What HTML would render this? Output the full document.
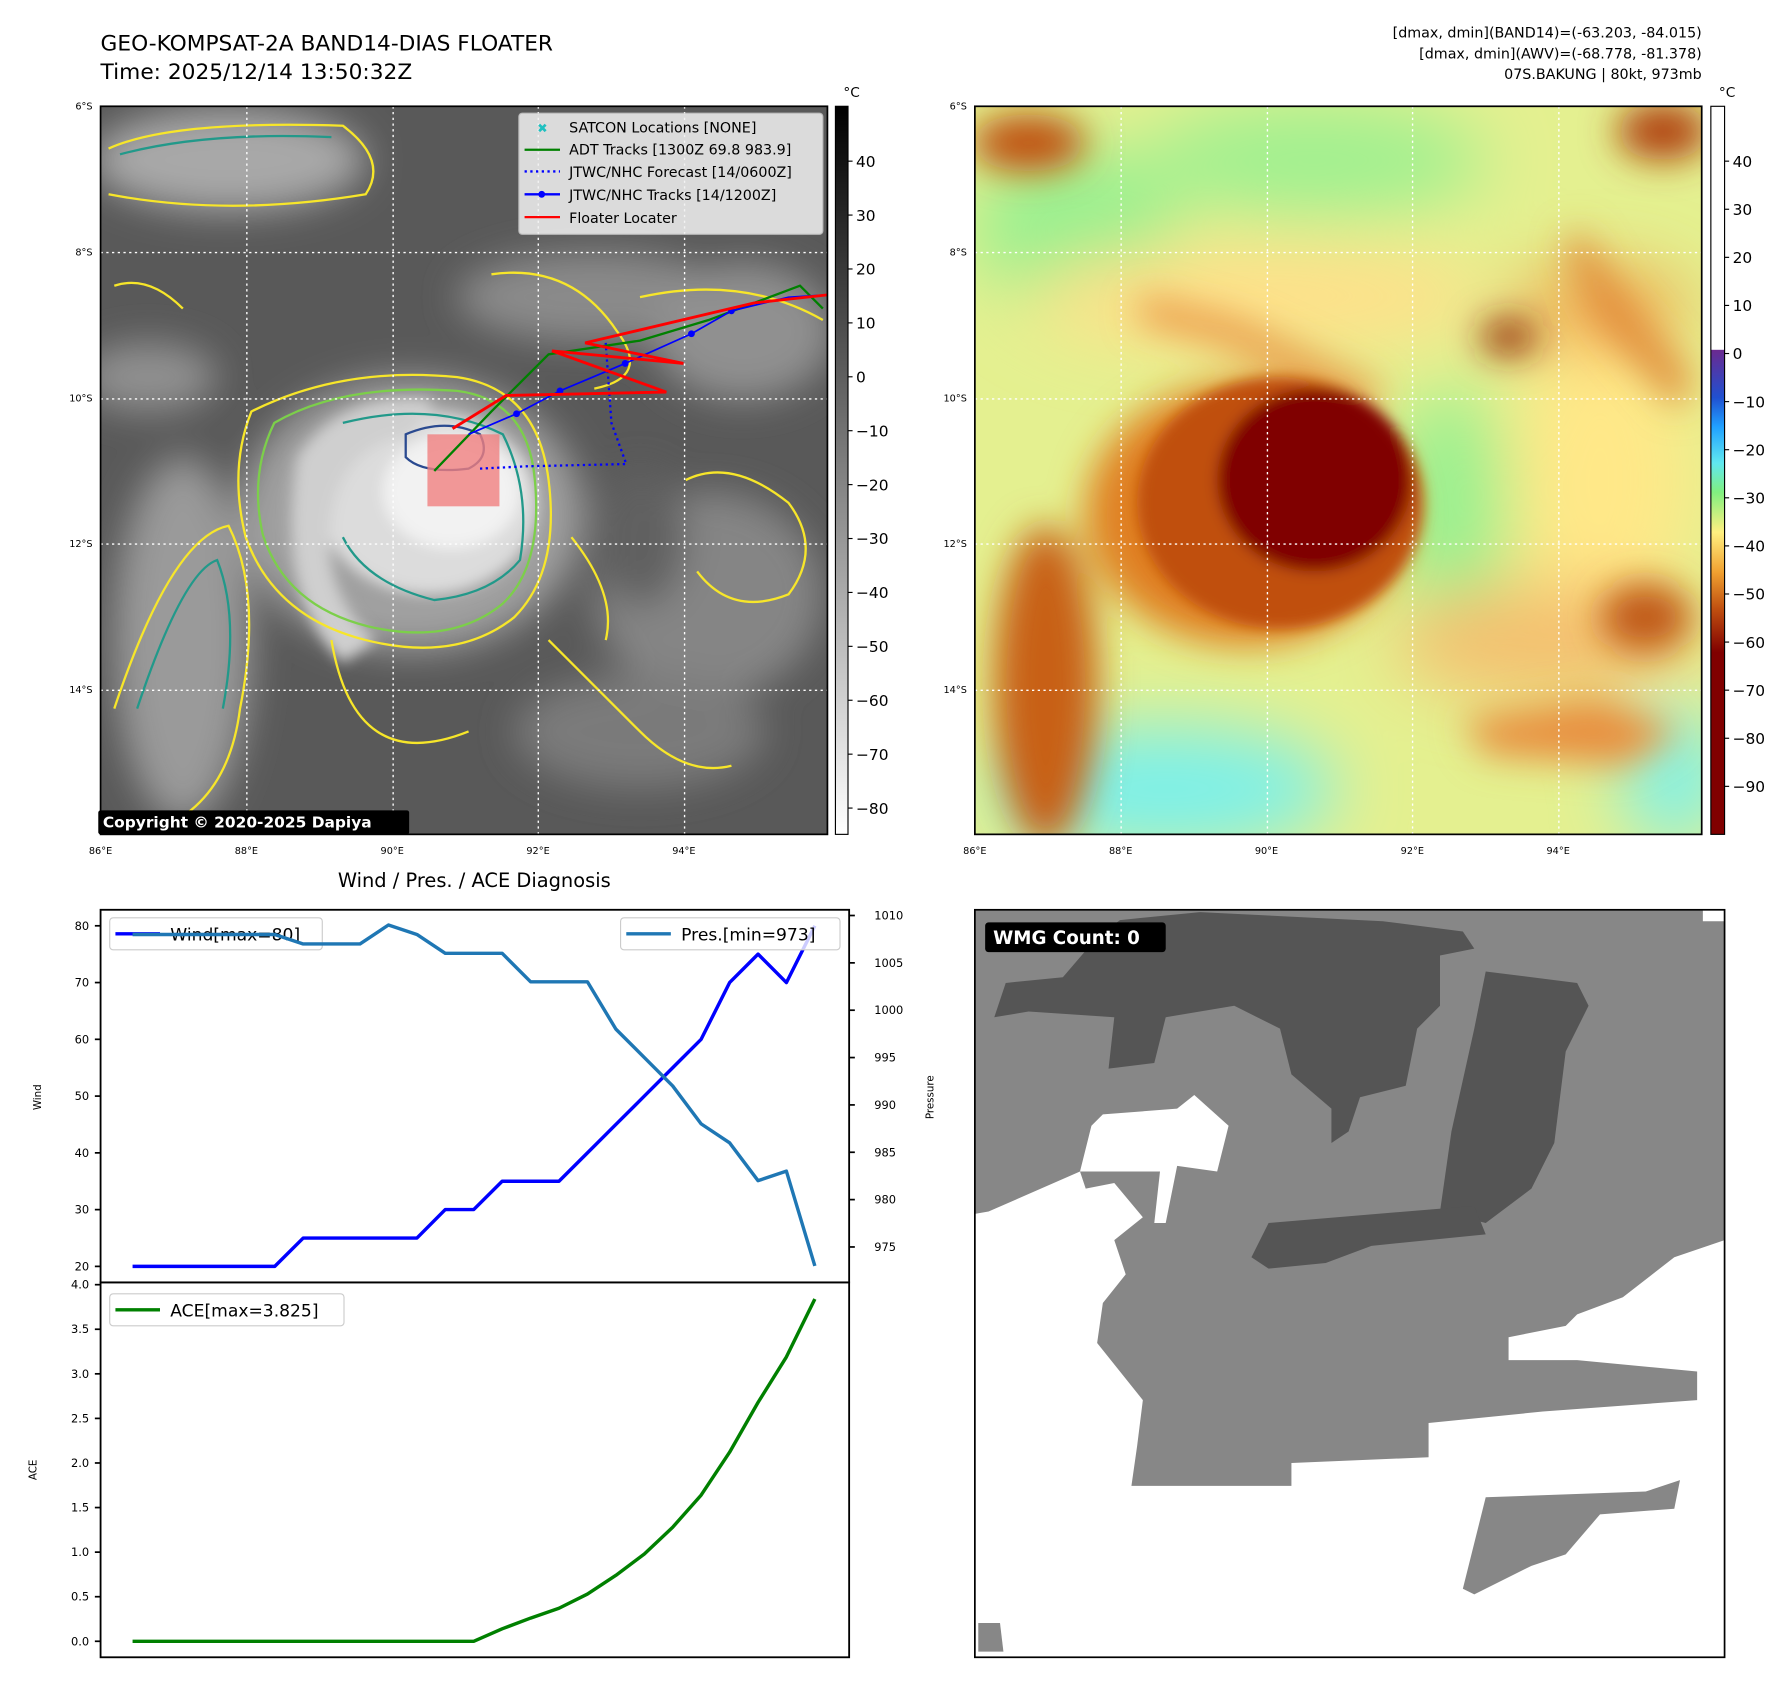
<!DOCTYPE html>
<html><head><meta charset="utf-8"><style>
html,body{margin:0;padding:0;background:#fff;}
svg{display:block;font-family:"DejaVu Sans","Liberation Sans",sans-serif;}
</style></head><body>
<svg id="fig" width="1792" height="1695" viewBox="0 0 1568 1483" preserveAspectRatio="none" xmlns="http://www.w3.org/2000/svg">
<defs>
<filter id="b8" x="-50%" y="-50%" width="200%" height="200%"><feGaussianBlur stdDeviation="6"/></filter>
<filter id="b20" x="-50%" y="-50%" width="200%" height="200%"><feGaussianBlur stdDeviation="16"/></filter>
<filter id="b35" x="-50%" y="-50%" width="200%" height="200%"><feGaussianBlur stdDeviation="30"/></filter>
<clipPath id="cl"><rect x="88" y="93" width="636" height="637"/></clipPath>
<clipPath id="cr"><rect x="853" y="93" width="636" height="637"/></clipPath>
<clipPath id="cw"><rect x="853" y="796" width="656" height="654"/></clipPath>
<linearGradient id="gcb" x1="0" y1="0" x2="0" y2="1"><stop offset="0" stop-color="#000"/><stop offset="1" stop-color="#fff"/></linearGradient>
<linearGradient id="ccb" x1="0" y1="0" x2="0" y2="1">
<stop offset="0" stop-color="#fff"/><stop offset="0.334" stop-color="#fff"/>
<stop offset="0.335" stop-color="#6a2a90"/><stop offset="0.40" stop-color="#2050d0"/><stop offset="0.44" stop-color="#20a0ff"/>
<stop offset="0.49" stop-color="#60e8f0"/><stop offset="0.53" stop-color="#80f080"/><stop offset="0.585" stop-color="#fff080"/>
<stop offset="0.64" stop-color="#f0a030"/><stop offset="0.69" stop-color="#c05010"/><stop offset="0.75" stop-color="#800000"/><stop offset="1" stop-color="#800000"/></linearGradient>
</defs>

<text x="88" y="44" font-size="19">GEO-KOMPSAT-2A BAND14-DIAS FLOATER</text>
<text x="88" y="69" font-size="19">Time: 2025/12/14 13:50:32Z</text>
<g font-size="12.5" text-anchor="end">
<text x="1489" y="33">[dmax, dmin](BAND14)=(-63.203, -84.015)</text>
<text x="1489" y="51">[dmax, dmin](AWV)=(-68.778, -81.378)</text>
<text x="1489" y="69">07S.BAKUNG | 80kt, 973mb</text>
</g>

<!-- LEFT MAP -->
<g clip-path="url(#cl)">
<rect x="88" y="93" width="636" height="637" fill="#595959"/>
<g filter="url(#b20)">
<ellipse cx="200" cy="140" rx="120" ry="45" fill="#a8a8a8"/>
<ellipse cx="520" cy="260" rx="120" ry="40" fill="#8a8a8a"/>
<ellipse cx="650" cy="290" rx="80" ry="60" fill="#909090"/>
<ellipse cx="130" cy="330" rx="60" ry="30" fill="#909090"/>
<ellipse cx="360" cy="450" rx="150" ry="120" fill="#a0a0a0"/>
<ellipse cx="160" cy="560" rx="60" ry="160" fill="#9a9a9a"/>
<ellipse cx="620" cy="520" rx="100" ry="90" fill="#858585"/>
<ellipse cx="560" cy="640" rx="110" ry="50" fill="#7a7a7a"/>
<ellipse cx="560" cy="470" rx="40" ry="60" fill="#606060"/>
</g>
<g filter="url(#b8)">
<ellipse cx="375" cy="440" rx="95" ry="80" fill="#dcdcdc"/>
<ellipse cx="395" cy="430" rx="60" ry="50" fill="#f2f2f2"/>
<path d="M260 400 Q300 340 380 350 L360 380 Q300 390 290 450 Q280 520 330 560 L300 580 Q240 520 260 400Z" fill="#cfcfcf"/>
</g>
<g fill="none" stroke-width="2">
<path d="M220 360 Q300 320 400 330 Q470 340 480 420 Q490 500 450 540 Q400 580 320 560 Q240 540 215 470 Q200 410 220 360Z" stroke="#f7e62a"/>
<path d="M240 370 Q300 335 400 342 Q462 350 468 420 Q475 495 440 528 Q395 565 322 548 Q250 530 230 468 Q218 415 240 370Z" stroke="#7ccf4a"/>
<path d="M300 370 Q380 350 440 380 Q465 430 455 490 Q430 520 380 525 Q320 510 300 470" stroke="#22998a"/>
<path d="M355 380 Q390 365 420 380 Q430 400 410 410 Q370 415 355 400Z" stroke="#2a4a90"/>
<path d="M100 620 Q150 470 200 460 Q230 520 210 620 Q200 700 140 725" stroke="#f7e62a"/>
<path d="M120 620 Q160 500 190 490 Q210 540 195 620" stroke="#22998a"/>
<path d="M95 130 Q150 105 300 110 Q340 140 320 170 Q200 190 95 170" stroke="#f7e62a"/>
<path d="M105 135 Q180 115 290 120" stroke="#22998a"/>
<path d="M430 240 Q500 230 540 290 Q570 330 520 340" stroke="#f7e62a"/>
<path d="M560 260 Q650 240 720 280" stroke="#f7e62a"/>
<path d="M600 420 Q640 400 690 440 Q720 480 690 520 Q640 540 610 500" stroke="#f7e62a"/>
<path d="M480 560 Q520 600 560 640 Q600 680 640 670" stroke="#f7e62a"/>
<path d="M290 560 Q300 620 330 640 Q360 660 410 640" stroke="#f7e62a"/>
<path d="M500 470 Q540 520 530 560" stroke="#f7e62a"/>
<path d="M100 250 Q130 240 160 270" stroke="#f7e62a"/>
</g>
<g stroke="#fff" stroke-width="1.2" stroke-dasharray="2,3">
<line x1="216" y1="93" x2="216" y2="730"/><line x1="344" y1="93" x2="344" y2="730"/><line x1="471" y1="93" x2="471" y2="730"/><line x1="599" y1="93" x2="599" y2="730"/>
<line x1="88" y1="221" x2="724" y2="221"/><line x1="88" y1="349" x2="724" y2="349"/><line x1="88" y1="476" x2="724" y2="476"/><line x1="88" y1="604" x2="724" y2="604"/>
</g>
<rect x="374" y="380" width="63" height="63" fill="#f08080" opacity="0.8"/>
<polyline points="380,412 430,360 480,310 560,298 620,280 700,250 720,270" fill="none" stroke="#008000" stroke-width="2"/>
<polyline points="420,410 460,408 548,406 535,370 530,300" fill="none" stroke="#0000ff" stroke-width="2" stroke-dasharray="2,3"/>
<polyline points="410,380 452,362 490,342 547,318 605,292 640,272 690,260 724,258" fill="none" stroke="#0000ff" stroke-width="1.5"/>
<g fill="#0000ff"><circle cx="452" cy="362" r="3"/><circle cx="490" cy="342" r="3"/><circle cx="547" cy="318" r="3"/><circle cx="605" cy="292" r="3"/><circle cx="640" cy="272" r="3"/></g>
<polyline points="396,375 443,346 583,343 483,307 598,318 512,300 660,265 724,258" fill="none" stroke="#ff0000" stroke-width="2.5"/>
</g>
<rect x="88" y="93" width="636" height="637" fill="none" stroke="#000" stroke-width="1.5"/>
<g>
<rect x="454" y="99" width="266" height="106" rx="3" fill="#f2f2f2" opacity="0.85" stroke="#ccc"/>
<g font-size="12.5">
<text x="470" y="116" fill="#20c0c0" font-weight="bold" font-size="11">✖</text><text x="498" y="116">SATCON Locations [NONE]</text>
<line x1="459" y1="131" x2="490" y2="131" stroke="#008000" stroke-width="2"/><text x="498" y="135">ADT Tracks [1300Z 69.8 983.9]</text>
<line x1="459" y1="150" x2="490" y2="150" stroke="#0000ff" stroke-width="2" stroke-dasharray="2,3"/><text x="498" y="155">JTWC/NHC Forecast [14/0600Z]</text>
<line x1="459" y1="170" x2="490" y2="170" stroke="#0000ff" stroke-width="2"/><circle cx="474" cy="170" r="3" fill="#0000ff"/><text x="498" y="175">JTWC/NHC Tracks [14/1200Z]</text>
<line x1="459" y1="190" x2="490" y2="190" stroke="#ff0000" stroke-width="2"/><text x="498" y="195">Floater Locater</text>
</g></g>
<rect x="86" y="709" width="272" height="21" rx="2" fill="#000"/>
<text x="90" y="724" font-size="13.5" font-weight="bold" fill="#fff">Copyright © 2020-2025 Dapiya</text>
<rect x="731" y="93" width="11" height="637" fill="url(#gcb)" stroke="#000"/>
<text x="738" y="85" font-size="12">°C</text>
<g id="ircbt" font-size="13.5"></g>

<!-- RIGHT MAP -->
<g clip-path="url(#cr)">
<rect x="853" y="93" width="636" height="637" fill="#e4f090"/>
<g filter="url(#b35)">
<ellipse cx="940" cy="200" rx="90" ry="70" fill="#98f090"/>
<ellipse cx="1150" cy="140" rx="150" ry="50" fill="#a0f090"/>
<ellipse cx="1100" cy="260" rx="200" ry="45" fill="#ffe08a"/>
<ellipse cx="1400" cy="420" rx="80" ry="130" fill="#ffe888"/>
<ellipse cx="1270" cy="440" rx="50" ry="100" fill="#98f090"/>
<ellipse cx="1020" cy="690" rx="150" ry="55" fill="#7ef0e8"/>
<ellipse cx="1465" cy="680" rx="45" ry="60" fill="#80f0e8"/>
<ellipse cx="1350" cy="560" rx="130" ry="50" fill="#f4c070"/>
<ellipse cx="1400" cy="270" rx="80" ry="35" fill="#f0a850"/>
</g>
<g filter="url(#b20)">
<ellipse cx="900" cy="125" rx="50" ry="25" fill="#c05010"/>
<ellipse cx="1455" cy="115" rx="40" ry="25" fill="#b04010"/>
<ellipse cx="1320" cy="295" rx="25" ry="15" fill="#902000"/>
<ellipse cx="915" cy="600" rx="45" ry="140" fill="#c86018"/>
<ellipse cx="1090" cy="450" rx="140" ry="115" fill="#e08020"/>
<ellipse cx="1440" cy="540" rx="40" ry="30" fill="#c05814"/>
<path d="M1000 260 L1080 280 L1210 340 L1200 360 L1070 300 L995 280Z" fill="#e89040"/>
<path d="M1380 200 L1420 260 L1480 330 L1470 360 L1400 280 L1370 220Z" fill="#e08838"/>
<path d="M1280 630 L1400 610 L1470 640 L1420 670 L1300 660Z" fill="#e89040"/>
</g>
<g filter="url(#b8)">
<ellipse cx="1120" cy="440" rx="125" ry="110" fill="#c05010"/>
<ellipse cx="1150" cy="420" rx="85" ry="80" fill="#800000"/>
</g>
<g stroke="#fff" stroke-width="1.2" stroke-dasharray="2,3">
<line x1="981" y1="93" x2="981" y2="730"/><line x1="1109" y1="93" x2="1109" y2="730"/><line x1="1236" y1="93" x2="1236" y2="730"/><line x1="1364" y1="93" x2="1364" y2="730"/>
<line x1="853" y1="221" x2="1489" y2="221"/><line x1="853" y1="349" x2="1489" y2="349"/><line x1="853" y1="476" x2="1489" y2="476"/><line x1="853" y1="604" x2="1489" y2="604"/>
</g>
</g>
<rect x="853" y="93" width="636" height="637" fill="none" stroke="#000" stroke-width="1.5"/>
<rect x="1497" y="93" width="12" height="637" fill="url(#ccb)" stroke="#000"/>
<text x="1504" y="85" font-size="12">°C</text>
<g id="awvcbt" font-size="13.5"></g>

<g id="mapticks" font-size="8.5"></g>

<!-- WMG panel -->
<g clip-path="url(#cw)">
<rect x="853" y="796" width="656" height="654" fill="#fff"/>
<path d="M853 796 L1490 796 L1490 806 L1509 806 L1509 1085 L1465 1100 L1420 1135 L1380 1150 L1370 1160 L1320 1170 L1320 1190 L1380 1190 L1485 1200 L1485 1225 L1350 1235 L1250 1245 L1250 1275 L1130 1280 L1130 1300 L990 1300 L995 1265 L1000 1225 L960 1175 L965 1140 L985 1115 L975 1085 L1000 1065 L975 1035 L950 1040 L945 1025 L865 1060 L853 1062Z" fill="#878787"/>
<path d="M955 985 L965 975 L1030 970 L1045 958 L1075 985 L1065 1025 L1030 1020 L1020 1070 L1010 1070 L1015 1025 L945 1025Z" fill="#fff"/>
<path d="M870 890 L880 860 L930 855 L960 820 L980 805 L1050 798 L1210 806 L1280 815 L1290 830 L1260 836 L1260 880 L1240 900 L1230 950 L1190 960 L1180 990 L1165 1000 L1165 970 L1130 940 L1120 900 L1080 880 L1020 890 L1010 930 L970 935 L975 890 L900 885Z" fill="#555"/>
<path d="M1300 850 L1380 860 L1390 880 L1370 920 L1360 1000 L1340 1040 L1300 1070 L1260 1060 L1270 990 L1290 900Z" fill="#555"/>
<path d="M1110 1070 L1290 1055 L1300 1080 L1200 1090 L1160 1105 L1110 1110 L1095 1100Z" fill="#555"/>
<path d="M1300 1310 L1440 1305 L1470 1295 L1465 1320 L1400 1325 L1370 1360 L1340 1370 L1290 1395 L1280 1390Z" fill="#878787"/>
<path d="M856 1420 L875 1420 L878 1445 L856 1445Z" fill="#878787"/>
</g>
<rect x="853" y="796" width="656" height="654" fill="none" stroke="#000" stroke-width="1.5"/>
<rect x="862" y="807" width="158" height="26" rx="3" fill="#000"/>
<text x="869" y="826" font-size="16" font-weight="bold" fill="#fff">WMG Count: 0</text>

<text x="415" y="776" font-size="17" text-anchor="middle">Wind / Pres. / ACE Diagnosis</text>
<g id="diag"></g>
</svg>
<script>
var windVals=[20,20,20,20,20,20,25,25,25,25,25,30,30,35,35,35,40,45,50,55,60,70,75,70,80];
var presVals=[1008,1008,1008,1008,1008,1008,1007,1007,1007,1009,1008,1006,1006,1006,1003,1003,1003,998,995,992,988,986,982,983,973];
var aceVals=[0,0,0,0,0,0,0,0,0,0,0,0,0,0.14,0.26,0.37,0.53,0.74,0.98,1.28,1.64,2.12,2.68,3.19,3.84];
var windTicks=[20,30,40,50,60,70,80];
var presTicks=[975,980,985,990,995,1000,1005,1010];
var aceTicks=["0.0","0.5","1.0","1.5","2.0","2.5","3.0","3.5","4.0"];
var irCbTicks=[40,30,20,10,0,-10,-20,-30,-40,-50,-60,-70,-80];
var awvCbTicks=[40,30,20,10,0,-10,-20,-30,-40,-50,-60,-70,-80,-90];
var latLabels=["6°S","8°S","10°S","12°S","14°S"];
var lonLabels=["86°E","88°E","90°E","92°E","94°E"];

var NS="http://www.w3.org/2000/svg";
function mk(tag,attrs,parent,txt){var e=document.createElementNS(NS,tag);for(var k in attrs)e.setAttribute(k,attrs[k]);if(txt!==undefined)e.textContent=txt;parent.appendChild(e);return e;}
var X=function(i){return 116+i*(713-116)/24;};
var YW=function(v){return 810+(80-v)*(1108-810)/60;};
var YP=function(v){return 801+(1010-v)*(1091-801)/35;};
var YA=function(v){return 1436-v*(1436-1124)/4;};

var g1=document.getElementById('ircbt');
irCbTicks.forEach(function(v){var y=141+(40-v)*(707-141)/120;
 mk('line',{x1:742,y1:y,x2:746,y2:y,stroke:'#000'},g1);
 var t=mk('text',{x:749,y:y+5},g1,(v<0?'\u2212'+(-v):v));
 
 });
var g2=document.getElementById('awvcbt');
awvCbTicks.forEach(function(v){var y=141+(40-v)*(688-141)/130;
 mk('line',{x1:1509,y1:y,x2:1513,y2:y,stroke:'#000'},g2);
 var t=mk('text',{x:1516,y:y+5},g2,(v<0?'\u2212'+(-v):v));
 
 });
var gm=document.getElementById('mapticks');
[88,853].forEach(function(x0){
 latLabels.forEach(function(l,i){var y=93+i*127.6;
  var t=mk('text',{x:x0-7,y:y+3,'text-anchor':'end'},gm,l);
  
  });
 lonLabels.forEach(function(l,i){var x=x0+i*127.6;
  var t=mk('text',{x:x,y:747,'text-anchor':'middle'},gm,l);
  
  });
});

var d=document.getElementById('diag');
mk('rect',{x:88,y:796,width:655,height:326,fill:'none',stroke:'#000','stroke-width':1.6},d);
mk('rect',{x:88,y:1122,width:655,height:328,fill:'none',stroke:'#000','stroke-width':1.6},d);
windTicks.forEach(function(v){var y=YW(v);mk('line',{x1:83,y1:y,x2:88,y2:y,stroke:'#000','stroke-width':1.5},d);
 var t=mk('text',{x:78,y:y+3.5,'text-anchor':'end','font-size':10},d,v);
 
 });
presTicks.forEach(function(v){var y=YP(v);mk('line',{x1:743,y1:y,x2:748,y2:y,stroke:'#000','stroke-width':1.5},d);
 var t=mk('text',{x:765,y:y+3.5,'font-size':10},d,v);
 
 });
aceTicks.forEach(function(v){var y=YA(parseFloat(v));mk('line',{x1:83,y1:y,x2:88,y2:y,stroke:'#000','stroke-width':1.5},d);
 var t=mk('text',{x:78,y:y+3.5,'text-anchor':'end','font-size':10},d,v);
 
 });
var l1=mk('text',{x:0,y:0,'font-size':9,transform:'translate(36,960) rotate(-90)','text-anchor':'middle'},d,'Wind');


var l2=mk('text',{x:0,y:0,'font-size':9,transform:'translate(817,960) rotate(-90)','text-anchor':'middle'},d,'Pressure');


var l3=mk('text',{x:0,y:0,'font-size':9,transform:'translate(32,1286) rotate(-90)','text-anchor':'middle'},d,'ACE');


function pts(arr,f){return arr.map(function(v,i){return X(i).toFixed(1)+','+f(v).toFixed(1);}).join(' ');}
var lw=mk('polyline',{points:pts(windVals,YW),fill:'none',stroke:'#0000ff','stroke-width':3,'stroke-linejoin':'round'},d);


var lp=mk('polyline',{points:pts(presVals,YP),fill:'none',stroke:'#1f77b4','stroke-width':3,'stroke-linejoin':'round'},d);


var la=mk('polyline',{points:pts(aceVals,YA),fill:'none',stroke:'#008000','stroke-width':3,'stroke-linejoin':'round'},d);


function legend(x,y,w,col,txt,name){var g=mk('g',{},d);
 
 
 mk('rect',{x:x,y:y,width:w,height:28,rx:3,fill:'#fff','fill-opacity':0.8,stroke:'#ccc'},g);
 mk('line',{x1:x+5,y1:y+14,x2:x+44,y2:y+14,stroke:col,'stroke-width':3},g);
 mk('text',{x:x+53,y:y+20,'font-size':15},g,txt);}
legend(96,803,186,'#0000ff','Wind[max=80]','wind-legend');
legend(543,803,192,'#1f77b4','Pres.[min=973]','pressure-legend');
legend(96,1132,205,'#008000','ACE[max=3.825]','ace-legend');
d.appendChild(lp);
</script>
</body></html>
